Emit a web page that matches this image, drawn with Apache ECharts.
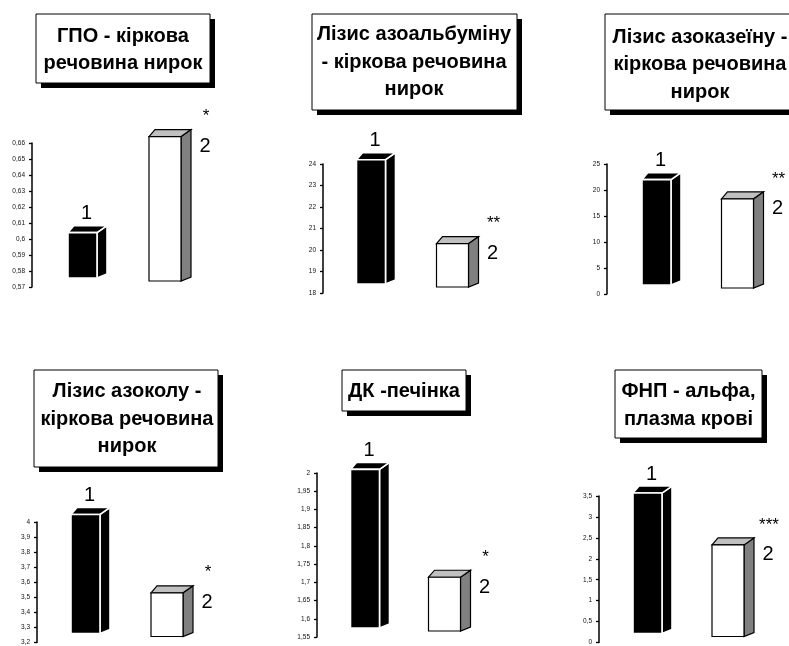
<!DOCTYPE html>
<html>
<head>
<meta charset="utf-8">
<script src="https://cdn.jsdelivr.net/npm/echarts@6/dist/echarts.min.js"></script>
<style>
  html, body { margin: 0; padding: 0; background: #fff; }
  #main { width: 789px; height: 646px; }
</style>
</head>
<body>
<div id="main"></div>
<script>
// дані
var groups = ['1', '2'];
var titles = [
    'ГПО - кіркова\nречовина нирок',
    'Лізис азоальбуміну\n- кіркова речовина\nнирок',
    'Лізис азоказеїну -\nкіркова речовина\nнирок',
    'Лізис азоколу -\nкіркова речовина\nнирок',
    'ДК -печінка',
    'ФНП - альфа,\nплазма крові'
];
var group1 = [0.604, 24.2, 22.0, 4.05, 2.01, 3.57];
var group2 = [0.664, 20.3, 18.3, 3.53, 1.714, 2.33];
var stars = ['*', '**', '**', '*', '*', '***'];
var axisMin = [0.57, 18, 0, 3.2, 1.55, 0];
var axisMax = [0.66, 24, 25, 4, 2, 3.5];
var axisStep = [0.01, 1, 5, 0.1, 0.05, 0.5];

// розміщення панелей
var grids = [
    {left: 41.25, width: 165, offset: 9.25, top: 143, height: 144},
    {left: 330.25, width: 163, offset: 7.25, top: 164, height: 129},
    {left: 616, width: 162, offset: 9, top: 164, height: 130},
    {left: 44.75, width: 163, offset: 7.75, top: 522, height: 125},
    {left: 325.25, width: 159, offset: 8.25, top: 473, height: 164},
    {left: 607.25, width: 161, offset: 8.25, top: 496, height: 147}
];
var boxes = [
    {x: 36, y: 14, w: 174, h: 69, cx: 123, cy: 50},
    {x: 312, y: 14, w: 205, h: 96, cx: 414, cy: 62},
    {x: 605, y: 14, w: 190, h: 96, cx: 700, cy: 64.5},
    {x: 34, y: 370, w: 184, h: 97, cx: 127, cy: 419},
    {x: 342, y: 370, w: 124, h: 41, cx: 404, cy: 391},
    {x: 615, y: 370, w: 147, h: 68, cx: 688.5, cy: 405.5}
];

var barWidth = [29, 32];
var lift = [9, 6];
var FONT = '"Liberation Sans", Arial, sans-serif';

var myChart = echarts.init(document.getElementById('main'));

function makeRender(p) {
    return function (params, api) {
        var idx = api.value(0);
        var val = api.value(1);
        var top = api.coord([idx, val]);
        var base = api.coord([idx, axisMin[p]]);
        var w = barWidth[idx];
        var x0 = top[0] - w / 2, x1 = x0 + w;
        var yt = top[1], yb = base[1] - lift[idx];
        var dxL = 6, dxR = 10, dyT = -7, dyB = -4;
        var dark = idx === 0;
        var stroke = dark ? '#fff' : '#000';
        var lw = dark ? 1.6 : 1.2;
        var children = [
            {type: 'polygon', shape: {points: [[x1, yt], [x1 + dxR, yt + dyT], [x1 + dxR, yb + dyB], [x1, yb]]},
                style: {fill: dark ? '#000' : '#808080', stroke: stroke, lineWidth: lw}},
            {type: 'polygon', shape: {points: [[x0, yt], [x0 + dxL, yt + dyT], [x1 + dxR, yt + dyT], [x1, yt]]},
                style: {fill: dark ? '#000' : '#c0c0c0', stroke: stroke, lineWidth: lw}},
            {type: 'rect', shape: {x: x0, y: yt, width: w, height: yb - yt},
                style: {fill: dark ? '#000' : '#fff', stroke: stroke, lineWidth: lw}}
        ];
        if (idx === 0) {
            children.push({type: 'text', x: (x0 + x1) / 2 + 4, y: yt - 19,
                style: {text: groups[0], font: '20px ' + FONT, fill: '#000', align: 'center', verticalAlign: 'middle'}});
        } else {
            children.push({type: 'text', x: x1 + 24, y: yt + 10,
                style: {text: groups[1], font: '20px ' + FONT, fill: '#000', align: 'center', verticalAlign: 'middle'}});
            children.push({type: 'text', x: x1 + 25, y: yt - 24 + 4,
                style: {text: stars[p], font: '17px ' + FONT, fill: '#000', align: 'center', verticalAlign: 'middle'}});
        }
        return {type: 'group', children: children};
    };
}

var option = {
    animation: false,
    backgroundColor: '#fff',
    grid: [], xAxis: [], yAxis: [], series: [], graphic: []
};

for (var p = 0; p < 6; p++) {
    var g = grids[p];
    option.grid.push({left: g.left, top: g.top, width: g.width, height: g.height});
    option.xAxis.push({type: 'category', gridIndex: p, data: groups, show: false});
    option.yAxis.push({
        type: 'value', gridIndex: p, min: axisMin[p], max: axisMax[p], interval: axisStep[p],
        offset: g.offset,
        splitLine: {show: false},
        axisLine: {show: true, lineStyle: {color: '#000', width: 1.5}},
        axisTick: {show: true, length: 3, lineStyle: {color: '#000', width: 1.3}},
        axisLabel: {
            fontSize: 6.5, fontFamily: FONT, color: '#111', margin: 7,
            formatter: function (v) { return String(+v.toFixed(4)).replace('.', ','); }
        }
    });
    option.series.push({
        type: 'custom', xAxisIndex: p, yAxisIndex: p,
        renderItem: makeRender(p),
        data: [[0, group1[p]], [1, group2[p]]],
        encode: {x: 0, y: 1},
        clip: false, z: 2
    });
    var b = boxes[p];
    option.graphic.push({
        type: 'group', children: [
            {type: 'rect', shape: {x: b.x + 5, y: b.y + 5, width: b.w, height: b.h}, style: {fill: '#000'}},
            {type: 'rect', shape: {x: b.x, y: b.y, width: b.w, height: b.h}, style: {fill: '#fff', stroke: '#000', lineWidth: 1}},
            {type: 'text', x: b.cx, y: b.cy, style: {
                text: titles[p], font: 'bold 20px ' + FONT, fill: '#000',
                align: 'center', verticalAlign: 'middle', lineHeight: 27.5
            }}
        ]
    });
}

myChart.setOption(option);
</script>
</body>
</html>
